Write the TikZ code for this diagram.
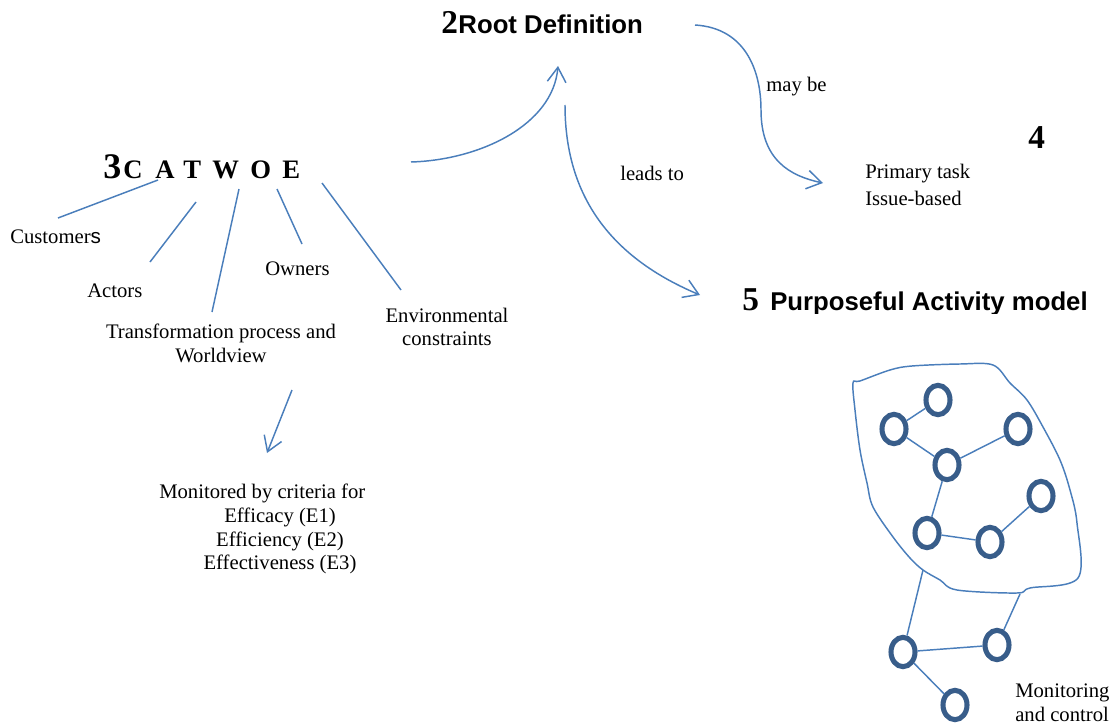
\documentclass[tikz,border=0pt]{standalone}
\usepackage{fontspec}
\setmainfont{Liberation Serif}
\setsansfont{Liberation Sans}
\definecolor{lineblue}{RGB}{74,126,187}
\definecolor{nodeblue}{RGB}{56,93,138}
\usetikzlibrary{arrows.meta, shapes.geometric}

\begin{document}
\begin{tikzpicture}[x=0.75pt, y=-0.75pt,
  lbl/.style={font=\fontsize{15.5}{17.5}\selectfont, inner sep=0pt},
  num/.style={font=\fontsize{25}{30}\selectfont\bfseries, inner sep=0pt},
  head/.style={font=\fontsize{19.3}{22}\selectfont\sffamily\bfseries, inner sep=0pt},
  letter/.style={font=\fontsize{20}{24}\selectfont\bfseries, inner sep=0pt},
  link/.style={draw=lineblue, line width=1.1pt},
  flow/.style={link, -{Straight Barb[length=11pt, width=14pt]}},
  act/.style={ellipse, draw=nodeblue, line width=3.8pt, minimum width=18pt, minimum height=22pt, inner sep=0pt}]
  \useasboundingbox (0,0) rectangle (1114,724);

  % Root definition
  \node[num, anchor=base west] (two) at (441,34) {2};
  \node[head, anchor=base west] (root) at (two.base east) {Root Definition};

  % CATWOE and its legs
  \node[font=\fontsize{27}{30}\selectfont\bfseries, inner sep=0pt, anchor=base west] (three) at (103,178) {3};
  \foreach \l/\x in {C/123, A/155, T/183, W/212, O/250, E/282}
    \node[letter, anchor=base west] (cw\l) at (\x,178) {\l};

  \node[lbl, anchor=base west] (cust) at (10,243) {Customer{\sffamily s}};
  \node[lbl, anchor=base west] (actors) at (87,297) {Actors};
  \node[lbl, anchor=base west] (owners) at (265,275) {Owners};
  \node[lbl, anchor=north, align=center] (trans) at (221,324) {Transformation process and\\Worldview};
  \node[lbl, anchor=north, align=center] (env) at (447,308) {Environmental\\constraints};

  \coordinate (legC) at (158,180);  \coordinate (endC) at (58,218);
  \coordinate (legA) at (196,202);  \coordinate (endA) at (150,262);
  \coordinate (legT) at (239,189);  \coordinate (endT) at (212,312);
  \coordinate (legO) at (277,189);  \coordinate (endO) at (302,244);
  \coordinate (legE) at (322,183);  \coordinate (endE) at (401,290);
  \draw[link] (legC) -- (endC);
  \draw[link] (legA) -- (endA);
  \draw[link] (legT) -- (endT);
  \draw[link] (legO) -- (endO);
  \draw[link] (legE) -- (endE);

  % CATWOE feeds the root definition
  \coordinate (cwout) at (411,162);
  \coordinate (rdin) at (558,66);
  \draw[flow] (cwout) .. controls (480,160) and (553,125) .. (rdin);

  % may be
  \coordinate (rdout) at (695,25);
  \coordinate (ptin) at (823,183);
  \draw[flow] (rdout) .. controls (745,28) and (761,70) .. (761,110)
    .. controls (761,160) and (790,176) .. (ptin);
  \node[lbl, anchor=base west] (maybe) at (766,92) {may be};
  \node[num, anchor=base west] (four) at (1028,148) {4};
  \node[lbl, anchor=north west, align=left] (prim) at (865,164) {Primary task\\[2.5pt]Issue-based};

  % leads to
  \coordinate (rdout2) at (565,105);
  \coordinate (pamin) at (700,295);
  \draw[flow] (rdout2) .. controls (565,185) and (600,253) .. (pamin);
  \node[lbl, anchor=base west] (leads) at (620,180) {leads to};

  \begin{scope}
    \clip (700,250) rectangle (1114,313);
    \node[num, anchor=base west] (five) at (742,310) {5};
    \node[head, anchor=base west] (pam) at (770,310) {Purposeful Activity model};
  \end{scope}

  % monitoring criteria
  \coordinate (tpout) at (292,390);
  \coordinate (critin) at (267,453);
  \draw[flow] (tpout) -- (critin);
  \node[lbl, anchor=base west] (monit) at (159,498) {Monitored by criteria for};
  \node[lbl, anchor=north, align=center] (crit) at (280,508) {Efficacy (E1)\\Efficiency (E2)\\Effectiveness (E3)};

  % purposeful activity model
  \draw[link] plot[smooth cycle, tension=0.55] coordinates {
    (890,370) (912,366) (960,364) (993,365) (1010,383) (1027,400) (1043,427)
    (1060,460) (1070,490) (1077,523) (1078,578) (1030,588) (1017,593)
    (957,590) (940,580) (923,570) (910,558) (893,537) (873,507) (867,483)
    (860,450) (855,410) (853,383) (860,381)};
  \node[act] (a1) at (938,400) {};
  \node[act] (a2) at (894,429) {};
  \node[act] (a3) at (1018,429) {};
  \node[act] (a4) at (947,465) {};
  \node[act] (a5) at (1041,496) {};
  \node[act] (a6) at (927,533) {};
  \node[act] (a7) at (990,542) {};
  \node[act] (a8) at (903,652) {};
  \node[act] (a9) at (997,645) {};
  \node[act] (a10) at (955,705) {};
  \draw[link] (a1) -- (a2) (a2) -- (a4) (a4) -- (a3) (a4) -- (a6) (a6) -- (a7) (a7) -- (a5);
  \coordinate (bl1) at (923,570);
  \coordinate (bl2) at (1020,594);
  \draw[link] (bl1) -- (a8) (bl2) -- (a9) (a8) -- (a9) (a8) -- (a10);
  \node[lbl, anchor=north west, align=left] (mon) at (1015,684) {Monitoring\\and control};
\end{tikzpicture}
\end{document}
